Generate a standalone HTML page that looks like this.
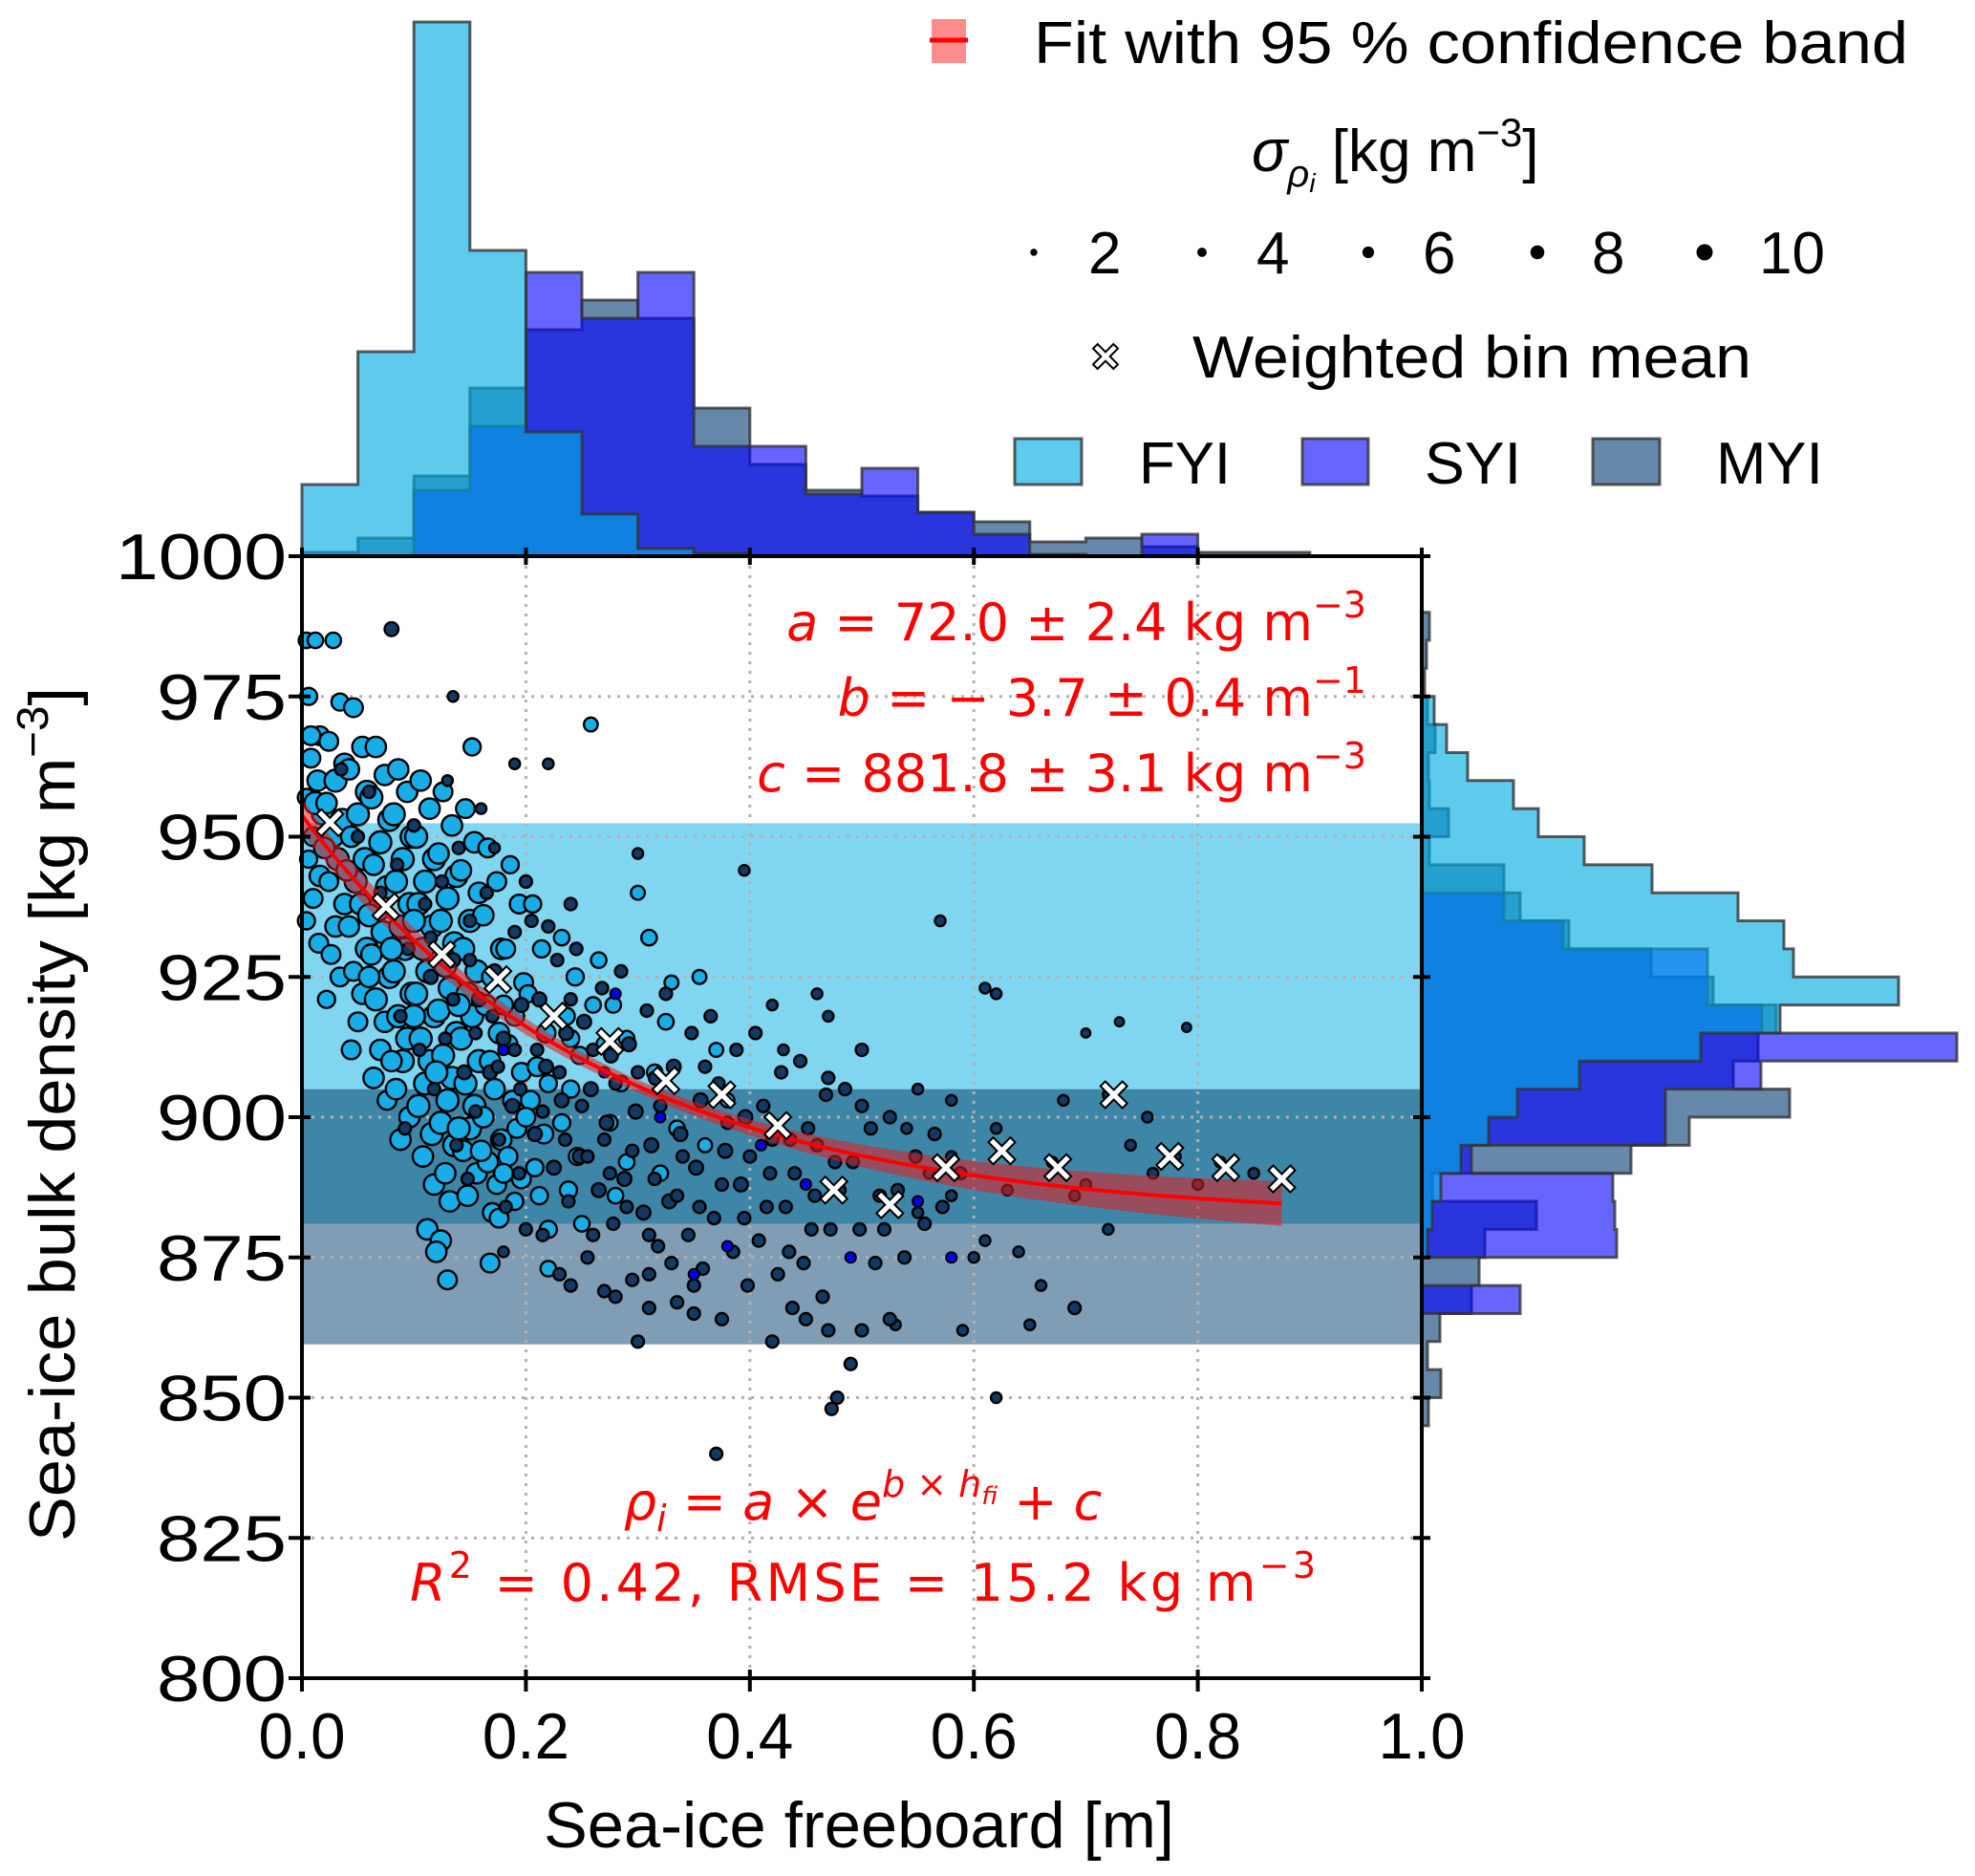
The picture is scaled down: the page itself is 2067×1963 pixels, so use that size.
<!DOCTYPE html>
<html><head><meta charset="utf-8"><style>
html,body{margin:0;padding:0;background:#fff;}
svg{display:block;font-family:"Liberation Sans",Arial,sans-serif;}
</style></head><body>
<svg id="chart" width="2067" height="1963" viewBox="0 0 2067 1963" xmlns="http://www.w3.org/2000/svg">
<g id="bands"></g>
<g id="grid"></g>
<g id="tophist"></g>
<g id="righthist"></g>
<g id="scatter"></g>
<g id="fit"></g>
<g id="means"></g>
<g id="axes"></g>

<g fill="#ff0000" font-family="'DejaVu Sans',sans-serif" font-size="54" text-anchor="end">
<text x="1430" y="670"><tspan font-style="italic">a</tspan> = 72.0 ± 2.4 kg m<tspan dy="-24" font-size="38">−3</tspan></text>
<text x="1430" y="749"><tspan font-style="italic">b</tspan> = − 3.7 ± 0.4 m<tspan dy="-24" font-size="38">−1</tspan></text>
<text x="1430" y="828"><tspan font-style="italic">c</tspan> = 881.8 ± 3.1 kg m<tspan dy="-24" font-size="38">−3</tspan></text>
</g>
<g fill="#ff0000" font-family="'DejaVu Sans',sans-serif" font-size="54" text-anchor="middle">
<text x="903" y="1590"><tspan font-style="italic">ρ</tspan><tspan font-style="italic" font-size="38" dy="12">i</tspan><tspan dy="-12"> = </tspan><tspan font-style="italic">a</tspan> × <tspan font-style="italic">e</tspan><tspan font-style="italic" font-size="38" dy="-24">b</tspan><tspan font-size="38"> × </tspan><tspan font-style="italic" font-size="38">h</tspan><tspan font-style="italic" font-size="26" dy="8">fi</tspan><tspan dy="16"> + </tspan><tspan font-style="italic">c</tspan></text>
<text x="903" y="1675" textLength="948" lengthAdjust="spacing"><tspan font-style="italic">R</tspan><tspan font-size="38" dy="-24">2</tspan><tspan dy="24"> = 0.42, RMSE  = 15.2 kg m</tspan><tspan font-size="38" dy="-24">−3</tspan></text>
</g>

<g font-size="62">
<rect x="975" y="20" width="36" height="46" fill="#ff8080" opacity="0.9"/>
<line x1="973" y1="42" x2="1013" y2="42" stroke="#ff0000" stroke-width="5"/>
<text x="1082" y="66" textLength="915" lengthAdjust="spacingAndGlyphs">Fit with 95 % confidence band</text>
<text x="1310" y="179"><tspan font-style="italic">σ</tspan><tspan font-style="italic" font-size="40" dy="16">ρ</tspan><tspan font-style="italic" font-size="28" dy="6">i</tspan><tspan dy="-22"> [kg m</tspan><tspan font-size="42" dy="-26">−3</tspan><tspan dy="26">]</tspan></text>
<g id="sizelegend"></g>
<g id="meanlegend"></g>
<text x="1248" y="395" textLength="585" lengthAdjust="spacingAndGlyphs">Weighted bin mean</text>
<rect x="1062" y="459" width="70" height="48" fill="rgb(0,172,226)" fill-opacity="0.63" stroke="#333" stroke-opacity="0.8" stroke-width="3"/>
<text x="1192" y="506" textLength="96" lengthAdjust="spacingAndGlyphs">FYI</text>
<rect x="1363" y="459" width="69" height="48" fill="rgb(0,0,255)" fill-opacity="0.6" stroke="#333" stroke-opacity="0.8" stroke-width="3"/>
<text x="1491" y="506" textLength="101" lengthAdjust="spacingAndGlyphs">SYI</text>
<rect x="1667" y="459" width="70" height="48" fill="rgb(0,57,113)" fill-opacity="0.6" stroke="#333" stroke-opacity="0.8" stroke-width="3"/>
<text x="1796" y="506" textLength="112" lengthAdjust="spacingAndGlyphs">MYI</text>
</g>

<text x="569" y="1933" font-size="68" textLength="660" lengthAdjust="spacingAndGlyphs">Sea-ice freeboard [m]</text>
<text transform="translate(78,1613) rotate(-90)" font-size="68" textLength="894" lengthAdjust="spacingAndGlyphs">Sea-ice bulk density [kg m<tspan font-size="46" dy="-28">−3</tspan><tspan dy="28">]</tspan></text>
</svg>
<script>
// ---------- data ----------
const xTicks = [0.0, 0.2, 0.4, 0.6, 0.8, 1.0];
const xTickLabels = ["0.0", "0.2", "0.4", "0.6", "0.8", "1.0"];
const yTicks = [800, 825, 850, 875, 900, 925, 950, 975, 1000];
const yTickLabels = ["800", "825", "850", "875", "900", "925", "950", "975", "1000"];
const bandRanges = [[905, 952.4], [881, 905], [859.5, 881]];
const bandColors = ["rgb(128,213,240)", "rgb(62,134,168)", "rgb(127,158,181)"];
const fitA = 72.0, fitB = -3.7, fitC = 881.8;
const fitXmax = 0.875;
const bandKnotsX = [0, 0.1, 0.2, 0.3, 0.4, 0.5, 0.6, 0.7, 0.8, 0.875];
const bandHalfWidth = [3.0, 2.2, 1.4, 1.1, 1.4, 2.0, 2.6, 3.1, 3.6, 4.0];
const meanX = [0.025,0.075,0.125,0.175,0.225,0.275,0.325,0.375,0.425,0.475,0.525,0.575,0.625,0.675,0.725,0.775,0.825,0.875];
const meanY = [952.5,937.5,929,924.5,918,913.5,906.5,904,898.5,887,884.4,891,894,891,904,893,891,889];
// top histogram (bins of 0.05 m), counts
const topFYI = [75,214,559,320,130,44,8,3,0,0,0,0,0,0,0,0,0,0,0,0];
const topSYI = [0,0,69,136,297,249,297,115,115,65,92,46,23,2,0,23,0,0,0,0];
const topMYI = [4,19,84,176,237,268,249,155,96,69,63,46,36,15,19,10,4,4,0,0];
// right histogram (bins of 5 kg m-3 from 1000 downward), counts
const rightFYI = [0,0,0,0,0,13,26,48,96,122,170,241,331,379,389,499,375,292,165,100,70,41,20,11,6,0,0,0,0,0,0,0,0,0,0,0,0,0,0,0];
const rightSYI = [0,0,0,0,0,0,0,0,0,0,0,0,86,148,299,299,356,560,355,255,255,52,200,202,204,0,103,0,0,0,0,0,0,0,0,0,0,0,0,0];
const rightMYI = [0,0,8,5,3,6,14,7,8,28,8,86,103,154,240,305,371,352,326,385,280,219,11,120,66,60,52,19,6,20,7,0,0,0,0,0,0,0,0,0];
// scatter [freeboard, density, sigma]
const fyiPoints = [
[0.004,985,6],[0.012,985,6],[0.006,975,7],[0.016,968,8],[0.008,964,8],[0.014,960,9],[0.004,957,7],[0.018,954,9],[0.01,950,8],[0.006,946,7],[0.016,943,9],[0.01,939,8],[0.004,935,7],[0.015,931,8],[0.012,956,10],[0.008,968,8],
[0.028,985,6],[0.034,974,7],[0.024,967,8],[0.038,963,9],[0.03,960,10],[0.022,956,9],[0.036,953,10],[0.028,950,9],[0.032,946,10],[0.024,942,8],[0.038,938,9],[0.03,934,9],[0.026,929,8],[0.034,925,8],[0.022,921,7],
[0.046,973,8],[0.054,966,9],[0.042,962,9],[0.058,958,10],[0.05,954,10],[0.044,950,9],[0.056,946,10],[0.048,942,10],[0.052,938,9],[0.042,934,9],[0.058,930,10],[0.046,926,8],[0.054,922,9],[0.05,917,8],[0.044,912,8],
[0.066,966,9],[0.074,961,9],[0.062,957,10],[0.078,953,10],[0.07,949,10],[0.064,945,9],[0.076,941,10],[0.068,937,10],[0.072,933,10],[0.062,929,9],[0.078,925,10],[0.066,921,10],[0.074,917,9],[0.07,912,9],[0.064,907,9],[0.076,903,8],
[0.086,962,9],[0.094,958,9],[0.082,954,10],[0.098,950,10],[0.09,946,10],[0.084,942,10],[0.096,938,10],[0.088,934,10],[0.092,930,10],[0.082,926,10],[0.098,922,10],[0.086,918,10],[0.094,914,10],[0.09,910,10],[0.084,905,9],[0.096,900,9],[0.088,896,9],
[0.106,960,9],[0.114,955,9],[0.102,950,10],[0.118,946,10],[0.11,942,10],[0.104,938,10],[0.116,934,10],[0.108,930,10],[0.112,926,10],[0.102,922,10],[0.118,918,10],[0.106,914,10],[0.114,910,10],[0.11,906,10],[0.104,902,10],[0.116,897,10],[0.108,893,9],[0.112,880,9],[0.118,888,9],
[0.126,958,8],[0.134,952,9],[0.122,947,9],[0.138,943,10],[0.13,939,10],[0.124,935,10],[0.136,931,10],[0.128,927,10],[0.132,923,10],[0.122,919,10],[0.138,915,10],[0.126,911,10],[0.134,907,10],[0.13,903,10],[0.124,899,10],[0.136,895,10],[0.128,890,9],[0.132,885,9],[0.124,878,9],[0.13,871,8],[0.12,876,9],
[0.146,955,8],[0.154,949,9],[0.142,944,9],[0.158,940,9],[0.15,935,10],[0.144,930,10],[0.156,926,10],[0.148,922,10],[0.152,918,10],[0.142,914,10],[0.158,910,10],[0.146,906,10],[0.154,902,10],[0.15,898,10],[0.144,894,9],[0.156,890,9],[0.148,886,9],[0.152,966,7],
[0.166,948,8],[0.174,942,8],[0.162,936,9],[0.178,930,9],[0.17,925,9],[0.164,920,9],[0.176,915,9],[0.168,910,9],[0.172,905,9],[0.162,900,9],[0.178,896,9],[0.166,892,9],[0.174,888,8],[0.17,883,8],[0.168,874,8],[0.176,882,8],
[0.186,945,7],[0.194,938,8],[0.182,930,8],[0.198,924,8],[0.19,918,8],[0.184,913,8],[0.196,908,8],[0.188,903,8],[0.192,898,8],[0.184,893,8],[0.196,889,8],[0.19,885,7],
[0.206,938,7],[0.214,930,7],[0.202,922,7],[0.218,915,8],[0.21,909,8],[0.204,903,8],[0.216,897,8],[0.208,891,7],[0.212,886,7],[0.22,880,7],[0.22,873,6],
[0.232,932,6],[0.244,925,7],[0.236,918,7],[0.248,911,7],[0.24,905,7],[0.232,899,7],[0.246,893,7],[0.238,887,7],[0.25,881,6],
[0.265,928,6],[0.278,920,6],[0.27,913,6],[0.285,906,6],[0.275,899,6],[0.29,892,6],[0.28,886,6],[0.258,970,5],
[0.31,932,6],[0.325,917,6],[0.315,908,6],[0.335,898,6],[0.32,890,6],[0.3,940,5],
[0.355,925,5],[0.37,912,5],[0.38,903,5],[0.36,895,5],
[0.02,948,9],[0.04,944,9],[0.06,936,10],[0.08,930,10],[0.1,918,10],[0.12,908,10],[0.14,898,10],[0.16,894,9],[0.18,890,8],[0.2,900,8],[0.22,906,7],[0.24,914,7],[0.26,920,6],[0.29,914,6],[0.33,924,5],[0.1,935,10],[0.14,920,10],[0.06,925,9],[0.08,910,9],[0.18,920,8]
];
const darkPoints = [
[0.08,987,5],[0.135,975,3],[0.19,963,3],[0.22,963,3],[0.13,960,3],[0.172,948,3],[0.3,947,3],[0.395,944,3],[0.57,935,3],[0.62,922,3],[0.61,923,3],[0.7,915,2],[0.73,917,2],[0.79,916,2],
[0.37,840,4],[0.473,848,4],[0.478,850,4],[0.49,856,4],[0.62,850,3],[0.53,863,3],[0.59,862,3],[0.65,863,3],[0.69,866,4],[0.8,888,3],[0.85,890,3],[0.755,900,3],[0.72,880,3],[0.67,892,3],[0.6,875,3],[0.64,876,3],[0.66,870,3],
[0.42,860,4],[0.45,864,4],[0.47,862,4],[0.5,862,4],[0.525,864,4],[0.35,865,4],[0.28,868,4],[0.31,872,4],[0.52,880,4],[0.55,883,3],[0.58,886,3],[0.61,878,3],[0.63,887,3],[0.7,888,3],[0.68,903,3],[0.58,893,3],[0.62,898,3],[0.54,898,3],[0.5,902,4],[0.47,907,4],[0.43,912,3],[0.46,922,3],[0.47,918,3],[0.42,920,3],[0.5,912,4],[0.55,905,3],[0.58,903,3],[0.72,904,3],[0.74,895,3],[0.76,890,3],[0.82,892,3],[0.78,893,3],[0.56,890,3],[0.69,886,3],
[0.06,958,4],[0.1,952,4],[0.14,948,4],[0.2,942,4],[0.24,938,4],[0.16,955,3],[0.05,950,4],[0.07,940,4],[0.035,962,4],[0.2,880,4],[0.18,876,3],
[0.085,945,4],[0.11,938,4],[0.095,930,4],[0.115,925,5],[0.088,918,4],[0.105,912,4],[0.118,905,4],[0.092,898,4],
[0.125,942,4],[0.15,935,4],[0.135,928,5],[0.158,921,5],[0.128,914,4],[0.145,908,5],[0.155,901,4],[0.138,895,4],[0.148,889,4],
[0.165,940,4],[0.19,933,4],[0.172,926,5],[0.196,920,5],[0.18,914,5],[0.168,908,5],[0.188,902,5],[0.176,896,4],[0.194,890,4],[0.182,884,4],
[0.205,935,4],[0.228,928,4],[0.212,921,5],[0.236,915,5],[0.218,909,5],[0.232,903,5],[0.208,897,5],[0.225,891,5],[0.238,885,4],[0.215,879,4],[0.23,872,4],
[0.245,930,4],[0.268,923,4],[0.252,917,5],[0.276,911,5],[0.258,905,5],[0.272,899,5],[0.248,893,5],[0.265,887,5],[0.278,881,4],[0.255,875,4],[0.27,869,4],
[0.285,926,4],[0.308,919,4],[0.292,913,5],[0.316,907,5],[0.298,901,5],[0.312,895,5],[0.288,889,5],[0.305,883,5],[0.318,877,4],[0.295,871,4],[0.31,866,4],
[0.325,922,4],[0.348,915,4],[0.332,909,5],[0.356,903,5],[0.338,897,5],[0.352,891,5],[0.328,885,5],[0.345,879,4],[0.358,873,4],[0.335,867,4],
[0.365,918,4],[0.388,912,4],[0.372,906,4],[0.396,900,5],[0.378,894,5],[0.392,888,5],[0.368,882,4],[0.385,876,4],[0.398,870,4],[0.375,864,4],
[0.405,915,4],[0.428,908,4],[0.412,902,4],[0.436,896,4],[0.418,890,4],[0.432,884,4],[0.408,878,4],[0.425,872,4],[0.438,866,4],
[0.445,910,4],[0.468,904,4],[0.452,898,4],[0.476,892,4],[0.458,886,4],[0.472,880,4],[0.448,874,4],[0.465,868,4],
[0.485,905,4],[0.508,898,4],[0.492,892,4],[0.516,886,4],[0.498,880,4],[0.512,874,4],
[0.525,900,4],[0.548,893,4],[0.532,887,4],[0.556,881,4],[0.538,875,4],
[0.565,897,4],[0.588,890,4],[0.572,884,4],
[0.115,932,4],[0.135,921,4],[0.155,915,4],[0.175,909,4],[0.195,905,4],[0.215,901,4],[0.235,896,4],[0.255,893,4],[0.275,890,4],[0.295,894,4],[0.315,889,4],[0.335,886,4],[0.355,884,4],[0.375,888,4],[0.395,882,4],[0.415,884,4],[0.435,876,4],[0.455,880,4],
[0.22,934,4],[0.24,921,4],[0.26,912,4],[0.28,906,4],[0.3,908,4],[0.32,902,4],[0.34,893,4],[0.36,909,4],[0.38,899,4],[0.4,893,4],[0.42,896,4],[0.44,890,4],[0.46,895,4],[0.48,887,4],
[0.15,928,4],[0.17,918,4],[0.19,912,4],[0.21,912,4],[0.23,908,4],[0.25,902,4],[0.27,896,4],[0.29,884,4],[0.31,879,4],[0.33,874,4],[0.35,870,4],[0.26,879,4],[0.24,870,4],[0.3,860,4]
];
const syiPoints = [[0.18,912,3],[0.27,908,3],[0.32,900,3],[0.38,877,3],[0.41,895,3],[0.28,922,3],[0.49,875,3],[0.55,885,3],[0.35,872,3],[0.58,875,3],[0.45,888,3]];
const sizeLegendValues = [2, 4, 6, 8, 10];
const sizeLegendX = [1082, 1258, 1432, 1609, 1784];

// ---------- scales ----------
const L = 316, R = 1488, T = 582, B = 1756;
const X = v => L + v * (R - L);
const Y = v => T + (1000 - v) * (B - T) / 200;
const rad = s => 3 + 0.85 * s;
const NS = "http://www.w3.org/2000/svg";
function mk(tag, attrs, parent) {
  const el = document.createElementNS(NS, tag);
  for (const k in attrs) el.setAttribute(k, attrs[k]);
  parent.appendChild(el);
  return el;
}
const g = id => document.getElementById(id);

// bands
bandRanges.forEach((r, i) => {
  const el = mk("rect", {x: L, y: Y(r[1]), width: R - L, height: Y(r[0]) - Y(r[1]), fill: bandColors[i]}, g("bands"));
  
  
});
// grid
xTicks.slice(1, -1).forEach(t => {
  const el = mk("line", {x1: X(t), x2: X(t), y1: T, y2: B, stroke: "#b0b0b0", "stroke-width": 3, "stroke-dasharray": "3,7"}, g("grid"));
  
  
});
yTicks.slice(1, -1).forEach(t => {
  const el = mk("line", {x1: L, x2: R, y1: Y(t), y2: Y(t), stroke: "#b0b0b0", "stroke-width": 3, "stroke-dasharray": "3,7"}, g("grid"));
  
  
});

// histograms (drawn MYI, SYI, FYI)
const histStyles = {
  fyi: {fill: "rgb(0,172,226)", op: 0.63},
  syi: {fill: "rgb(0,0,255)", op: 0.6},
  myi: {fill: "rgb(0,57,113)", op: 0.6}
};
[["myi", topMYI], ["syi", topSYI], ["fyi", topFYI]].forEach(([name, arr]) => {
  let d = "M" + X(0) + "," + T;
  arr.forEach((c, i) => {
    d += " L" + X(i * 0.05) + "," + (T - c) + " L" + X((i + 1) * 0.05) + "," + (T - c);
  });
  d += " L" + X(1) + "," + T + " Z";
  const el = mk("path", {d: d, fill: histStyles[name].fill, "fill-opacity": histStyles[name].op, stroke: "#333", "stroke-opacity": 0.8, "stroke-width": 3}, g("tophist"));
  
  
});
[["myi", rightMYI], ["syi", rightSYI], ["fyi", rightFYI]].forEach(([name, arr]) => {
  let d = "M" + R + "," + Y(1000);
  arr.forEach((c, i) => {
    d += " L" + (R + c) + "," + Y(1000 - 5 * i) + " L" + (R + c) + "," + Y(1000 - 5 * (i + 1));
  });
  d += " L" + R + "," + Y(800) + " Z";
  const el = mk("path", {d: d, fill: histStyles[name].fill, "fill-opacity": histStyles[name].op, stroke: "#333", "stroke-opacity": 0.8, "stroke-width": 3}, g("righthist"));
  
  
});

// scatter
fyiPoints.forEach(p => {
  const el = mk("circle", {cx: X(p[0]), cy: Y(p[1]), r: rad(p[2]), fill: "#18ade6", stroke: "#000", "stroke-width": 2.4}, g("scatter"));
  
  
});
darkPoints.forEach(p => {
  const el = mk("circle", {cx: X(p[0]), cy: Y(p[1]), r: rad(p[2]), fill: "#123a62", stroke: "#000", "stroke-width": 2.4}, g("scatter"));
  
  
});
syiPoints.forEach(p => {
  const el = mk("circle", {cx: X(p[0]), cy: Y(p[1]), r: rad(p[2]), fill: "#0000f0", stroke: "#000", "stroke-width": 2}, g("scatter"));
  
  
});

// fit band + curve
const fitF = x => fitA * Math.exp(fitB * x) + fitC;
const hw = x => {
  for (let i = 0; i < bandKnotsX.length - 1; i++) {
    if (x <= bandKnotsX[i + 1]) {
      const t = (x - bandKnotsX[i]) / (bandKnotsX[i + 1] - bandKnotsX[i]);
      return bandHalfWidth[i] + t * (bandHalfWidth[i + 1] - bandHalfWidth[i]);
    }
  }
  return bandHalfWidth[bandHalfWidth.length - 1];
};
let up = [], lo = [], line = [];
for (let i = 0; i <= 100; i++) {
  const x = fitXmax * i / 100;
  up.push(X(x) + "," + Y(fitF(x) + hw(x)));
  lo.push(X(x) + "," + Y(fitF(x) - hw(x)));
  line.push(X(x) + "," + Y(fitF(x)));
}
let el = mk("polygon", {points: up.concat(lo.reverse()).join(" "), fill: "rgb(225,30,30)", "fill-opacity": 0.55}, g("fit"));


el = mk("polyline", {points: line.join(" "), fill: "none", stroke: "#ff0000", "stroke-width": 4}, g("fit"));



// X markers
function xMarker(cx, cy, s, parent, sw) {
  const a = s * 0.18, b = s * 0.5;
  const pts = [[-b,-b+a],[-b+a,-b],[0,-a],[b-a,-b],[b,-b+a],[a,0],[b,b-a],[b-a,b],[0,a],[-b+a,b],[-b,b-a],[-a,0]];
  return mk("polygon", {points: pts.map(q => (cx + q[0]) + "," + (cy + q[1])).join(" "), fill: "#fff", stroke: "#000", "stroke-width": sw}, parent);
}
meanX.forEach((mx, i) => {
  const m = xMarker(X(mx), Y(meanY[i]), 28, g("means"), 2);
  
  
});
const lm = xMarker(1157, 373, 26, g("meanlegend"), 2);



// size legend
sizeLegendValues.forEach((v, i) => {
  const c = mk("circle", {cx: sizeLegendX[i], cy: 264, r: 2.5 + 0.6 * v, fill: "#000"}, g("sizelegend"));
  
  
  const t = mk("text", {x: sizeLegendX[i] + 57, y: 286, "font-size": 62}, g("sizelegend"));
  t.textContent = String(v);
  
  
});

// axes
const ax = g("axes");
el = mk("rect", {x: L, y: T, width: R - L, height: B - T, fill: "none", stroke: "#000", "stroke-width": 4}, ax);


xTicks.forEach((t, i) => {
  let e = mk("line", {x1: X(t), x2: X(t), y1: B - 9, y2: B + 14, stroke: "#000", "stroke-width": 4}, ax);
  
  
  e = mk("line", {x1: X(t), x2: X(t), y1: T - 9, y2: T + 9, stroke: "#000", "stroke-width": 4}, ax);
  
  
  e = mk("text", {x: X(t), y: 1840, "font-size": 68, "text-anchor": "middle", textLength: 91, lengthAdjust: "spacingAndGlyphs"}, ax);
  e.textContent = xTickLabels[i];
  
  
});
yTicks.forEach((t, i) => {
  let e = mk("line", {x1: L - 14, x2: L + 9, y1: Y(t), y2: Y(t), stroke: "#000", "stroke-width": 4}, ax);
  
  
  e = mk("line", {x1: R - 9, x2: R + 9, y1: Y(t), y2: Y(t), stroke: "#000", "stroke-width": 4}, ax);
  
  
  const lab = yTickLabels[i];
  e = mk("text", {x: 300, y: Y(t) + 24, "font-size": 68, "text-anchor": "end", textLength: lab.length === 4 ? 179 : 136, lengthAdjust: "spacingAndGlyphs"}, ax);
  e.textContent = lab;
  
  
});
</script>
</body></html>
